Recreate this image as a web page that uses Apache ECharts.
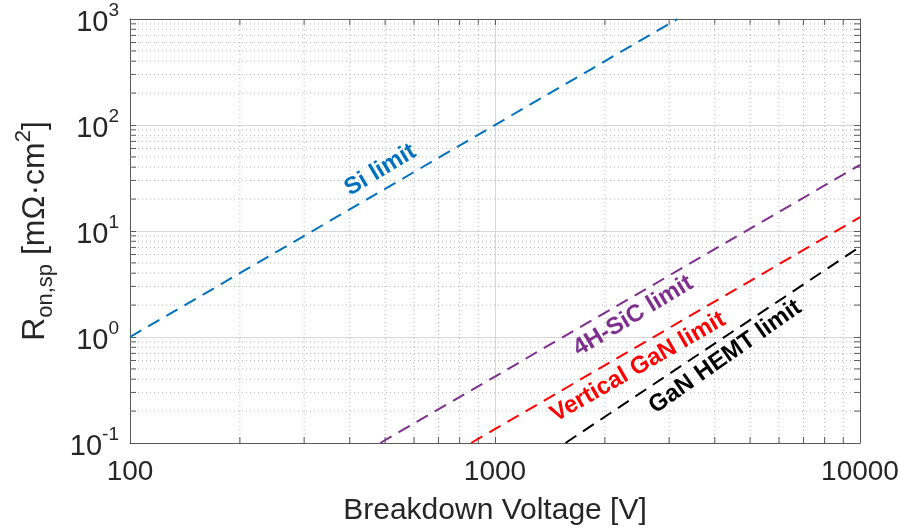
<!DOCTYPE html>
<html>
<head>
<meta charset="utf-8">
<script src="https://cdn.jsdelivr.net/npm/echarts@6/dist/echarts.min.js"></script>
<style>
  html, body { margin: 0; padding: 0; background: #fff; }
  #chart { width: 900px; height: 531px; }
</style>
</head>
<body>
<div id="chart"></div>
<script>
// limit lines, end points where they meet the plot box: [V, mOhm*cm2]
const siLimit = [[100, 1], [3162, 1000]];
const sicLimit = [[485, 0.1], [10000, 42]];
const vGanLimit = [[860, 0.1], [10000, 13.5]];
const hemtLimit = [[1560, 0.1], [10000, 7.1]];

const lineNames = ['Si limit', '4H-SiC limit', 'Vertical GaN limit', 'GaN HEMT limit'];
const lineColors = ['#0072BD', '#7E2F8E', '#FF0000', '#000000'];
// where each label sits, in data units, and its tilt
const labelAt = [[485, 37.6], [2390, 1.58], [2465, 0.52], [4275, 0.65]];
const labelTilt = [31, 31, 30, 35];

const xMinor = [200, 300, 400, 500, 600, 700, 800, 900, 2000, 3000, 4000, 5000, 6000, 7000, 8000, 9000];
const yMinor = [0.2, 0.3, 0.4, 0.5, 0.6, 0.7, 0.8, 0.9, 2, 3, 4, 5, 6, 7, 8, 9,
                20, 30, 40, 50, 60, 70, 80, 90, 200, 300, 400, 500, 600, 700, 800, 900];

const FONT = '"Liberation Sans", Arial, Helvetica, sans-serif';
const AXIS_COL = '#5a5a5a';
const TXT = '#262626';

const chart = echarts.init(document.getElementById('chart'));

function minorGrid(vals, isX) {
    return {
        type: 'custom',
        silent: true,
        z: 1,
        xAxisIndex: 0,
        yAxisIndex: 0,
        data: vals.map(v => isX ? [v, 1] : [1000, v]),
        renderItem: function (params, api) {
            const dotted = { stroke: '#b4b4b4', lineWidth: 1, lineDash: [1, 3] };
            const tick = { stroke: AXIS_COL, lineWidth: 1 };
            let a, b, t1, t2;
            if (isX) {
                const v = api.value(0);
                a = api.coord([v, 0.1]);
                b = api.coord([v, 1000]);
                t1 = { x1: a[0], y1: a[1], x2: a[0], y2: a[1] - 6 };
                t2 = { x1: b[0], y1: b[1], x2: b[0], y2: b[1] + 6 };
            } else {
                const v = api.value(1);
                a = api.coord([100, v]);
                b = api.coord([10000, v]);
                t1 = { x1: a[0], y1: a[1], x2: a[0] + 6, y2: a[1] };
                t2 = { x1: b[0], y1: b[1], x2: b[0] - 6, y2: b[1] };
            }
            return {
                type: 'group',
                children: [
                    { type: 'line', shape: { x1: a[0], y1: a[1], x2: b[0], y2: b[1] }, style: dotted },
                    { type: 'line', shape: t1, style: tick },
                    { type: 'line', shape: t2, style: tick }
                ]
            };
        }
    };
}

function limitSeries(data, i) {
    return {
        name: lineNames[i],
        type: 'line',
        data: data,
        showSymbol: false,
        symbol: 'none',
        z: 5,
        lineStyle: { color: lineColors[i], width: 2, type: [13, 8] },
        markPoint: {
            symbol: 'circle',
            symbolSize: 0,
            silent: true,
            data: [{
                coord: labelAt[i],
                label: {
                    show: true,
                    position: 'inside',
                    formatter: lineNames[i],
                    rotate: labelTilt[i],
                    color: lineColors[i],
                    fontFamily: FONT,
                    fontWeight: 'bold',
                    fontSize: 24
                }
            }]
        }
    };
}

const powLabel = function (v) {
    const e = Math.round(Math.log10(v));
    return '{b|10}{s|' + (e < 0 ? '-' + (-e) : e) + '}';
};
const powRich = {
    b: { fontSize: 29, fontFamily: FONT, color: TXT, lineHeight: 36, verticalAlign: 'bottom' },
    s: { fontSize: 19, fontFamily: FONT, color: TXT, lineHeight: 22, verticalAlign: 'top' }
};

chart.setOption({
    animation: false,
    backgroundColor: '#ffffff',
    grid: { left: 130, right: 40, top: 19, bottom: 88, outerBoundsMode: 'none', containLabel: false },
    xAxis: [{
        type: 'log',
        logBase: 10,
        min: 100,
        max: 10000,
        name: 'Breakdown Voltage [V]',
        nameLocation: 'middle',
        nameGap: 53,
        nameTextStyle: { fontSize: 30, fontFamily: FONT, color: TXT },
        axisLine: { lineStyle: { color: AXIS_COL, width: 1 } },
        axisTick: { inside: true, length: 6, lineStyle: { color: AXIS_COL } },
        axisLabel: {
            fontSize: 28, fontFamily: FONT, color: TXT, margin: 15,
            formatter: v => String(Math.round(v))
        },
        splitLine: { show: true, lineStyle: { color: '#d6d6d6', width: 1 } }
    }, {
        type: 'log',
        logBase: 10,
        min: 100,
        max: 10000,
        position: 'top',
        axisLine: { lineStyle: { color: AXIS_COL, width: 1 } },
        axisTick: { inside: true, length: 6, lineStyle: { color: AXIS_COL } },
        axisLabel: { show: false },
        splitLine: { show: false }
    }],
    yAxis: [{
        type: 'log',
        logBase: 10,
        min: 0.1,
        max: 1000,
        name: 'R{sub|on,sp} [mΩ·cm{sup|2}]',
        nameLocation: 'middle',
        nameRotate: 90,
        nameGap: 73,
        nameTextStyle: {
            fontSize: 32, fontFamily: FONT, color: TXT,
            rich: {
                sub: { fontSize: 22, fontFamily: FONT, color: TXT, verticalAlign: 'bottom', lineHeight: 44 },
                sup: { fontSize: 22, fontFamily: FONT, color: TXT, verticalAlign: 'top', lineHeight: 24 }
            }
        },
        axisLine: { show: true, lineStyle: { color: AXIS_COL, width: 1 } },
        axisTick: { show: true, inside: true, length: 6, lineStyle: { color: AXIS_COL } },
        axisLabel: { margin: 11, formatter: powLabel, rich: powRich },
        splitLine: { show: true, lineStyle: { color: '#d6d6d6', width: 1 } }
    }, {
        type: 'log',
        logBase: 10,
        min: 0.1,
        max: 1000,
        position: 'right',
        axisLine: { show: true, lineStyle: { color: AXIS_COL, width: 1 } },
        axisTick: { show: true, inside: true, length: 6, lineStyle: { color: AXIS_COL } },
        axisLabel: { show: false },
        splitLine: { show: false }
    }],
    series: [
        minorGrid(xMinor, true),
        minorGrid(yMinor, false),
        limitSeries(siLimit, 0),
        limitSeries(sicLimit, 1),
        limitSeries(vGanLimit, 2),
        limitSeries(hemtLimit, 3)
    ]
});
</script>
</body>
</html>
